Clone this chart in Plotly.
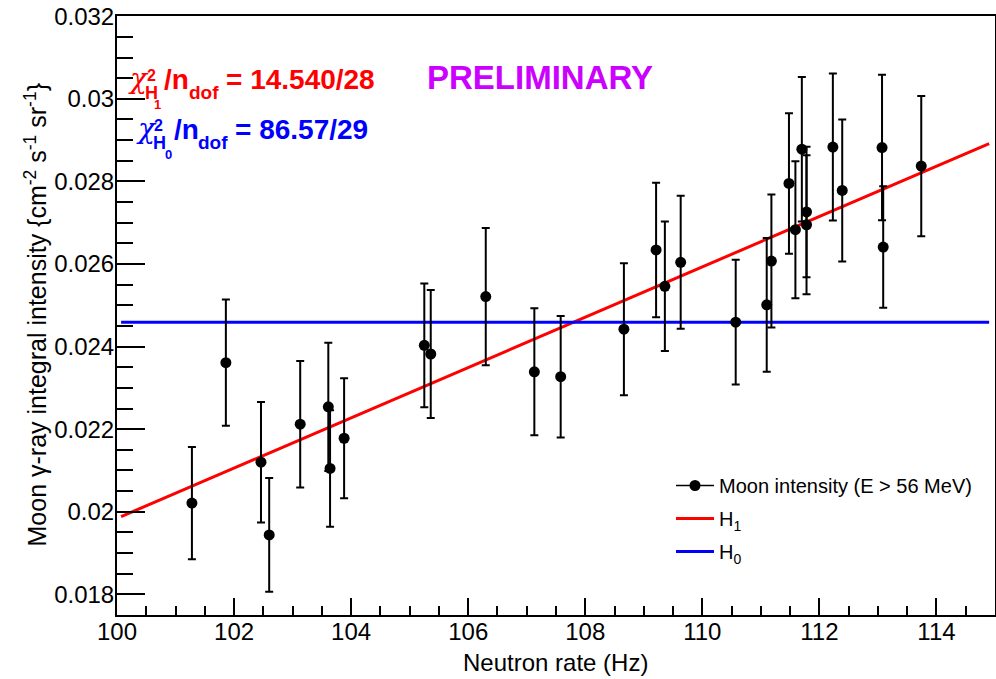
import numpy as np
import plotly.graph_objects as go

# ---------------- data ----------------
neutron_rate = [101.28, 101.86, 102.46, 102.60, 103.13, 103.61, 103.64, 103.88,
                105.25, 105.36, 106.30, 107.13, 107.58, 108.66, 109.21, 109.36,
                109.63, 110.57, 111.10, 111.18, 111.48, 111.59, 111.70, 111.78,
                111.78, 112.23, 112.39, 113.07, 113.09, 113.74]
intensity = [0.02021, 0.02361, 0.02120, 0.01944, 0.02212, 0.02254, 0.02105, 0.02178,
             0.02403, 0.02382, 0.02521, 0.02339, 0.02327, 0.02442, 0.02634, 0.02546,
             0.02604, 0.02459, 0.02501, 0.02607, 0.02795, 0.02683, 0.02878, 0.02726,
             0.02695, 0.02883, 0.02778, 0.02882, 0.02641, 0.02837]
intensity_err = [0.00136, 0.00153, 0.00146, 0.00138, 0.00153, 0.00155, 0.00141, 0.00145,
                 0.00150, 0.00155, 0.00166, 0.00154, 0.00147, 0.00160, 0.00163, 0.00157,
                 0.00161, 0.00151, 0.00162, 0.00161, 0.00170, 0.00166, 0.00175, 0.00158,
                 0.00168, 0.00178, 0.00172, 0.00176, 0.00147, 0.00170]

# fit models
fit_range = [100.07, 114.9]
h1_intercept_at_100 = 0.01984   # H1: linear model
h1_slope = 0.000609
h0_value = 0.02459              # H0: constant model

x_ticks = [100, 102, 104, 106, 108, 110, 112, 114]
x_tick_labels = ["100", "102", "104", "106", "108", "110", "112", "114"]
y_ticks = [0.018, 0.020, 0.022, 0.024, 0.026, 0.028, 0.030, 0.032]
y_tick_labels = ["0.018", "0.02", "0.022", "0.024", "0.026", "0.028", "0.03", "0.032"]

legend_names = ["Moon intensity (E > 56 MeV)", "H<sub>1</sub>", "H<sub>0</sub>"]
chi2_h1_text = "= 14.540/28"
chi2_h0_text = "= 86.57/29"
prelim_text = "PRELIMINARY"

# ---------------- layout geometry ----------------
W, H = 996, 679
ML, MR, MT, MB = 117, 1, 16, 64
PW, PH = W - ML - MR, H - MT - MB
FONT = "Liberation Sans, Arial, Helvetica, sans-serif"

def px_x(px):
    return (px - ML) / PW

def px_y(py):
    return (MT + PH - py) / PH

fx = np.linspace(fit_range[0], fit_range[1], 50)
fy_h1 = h1_intercept_at_100 + h1_slope * (fx - 100)
fy_h0 = np.full_like(fx, h0_value)

fig = go.Figure()

fig.add_trace(go.Scatter(
    x=fx, y=fy_h1, mode="lines", line=dict(color="#ff0000", width=3),
    showlegend=False, hoverinfo="skip"))
fig.add_trace(go.Scatter(
    x=fx, y=fy_h0, mode="lines", line=dict(color="#0000ff", width=3),
    showlegend=False, hoverinfo="skip"))
fig.add_trace(go.Scatter(
    x=neutron_rate, y=intensity, mode="markers",
    marker=dict(color="black", size=11, symbol="circle"),
    error_y=dict(type="data", array=intensity_err, visible=True,
                 color="black", thickness=2, width=4),
    showlegend=False))

# legend-only entries
fig.add_trace(go.Scatter(
    x=[None], y=[None], mode="lines+markers", name=legend_names[0],
    line=dict(color="black", width=1.5), marker=dict(color="black", size=11),
    legendgroup="a"))
fig.add_trace(go.Scatter(
    x=[None], y=[None], mode="lines", name=legend_names[1],
    line=dict(color="#ff0000", width=3), legendgroup="b"))
fig.add_trace(go.Scatter(
    x=[None], y=[None], mode="lines", name=legend_names[2],
    line=dict(color="#0000ff", width=3), legendgroup="c"))

annotations = []

def add_text(text, left_px, baseline_px, size, color, bold=True, family=FONT):
    t = "<b>" + text + "</b>" if bold else text
    annotations.append(dict(
        text=t, xref="paper", yref="paper",
        x=px_x(left_px), y=px_y(baseline_px + 0.212 * size),
        xanchor="left", yanchor="bottom", showarrow=False, borderpad=0,
        font=dict(family=family, size=size, color=color)))

RED, BLUE, MAG = "#ff0000", "#0000ff", "#cc00ff"
CHI_FONT = "DejaVu Serif, serif"
# chi2 H1 row
add_text("<i>χ</i>", 127, 90, 28, RED, bold=False, family=CHI_FONT)
add_text("2", 146, 82, 16, RED)
add_text("H", 144, 100, 18, RED)
add_text("1", 153, 110, 13, RED)
add_text("/n", 163, 90, 28, RED)
add_text("dof", 188, 100, 19, RED)
add_text(chi2_h1_text, 225, 90, 28, RED)
# chi2 H0 row
add_text("<i>χ</i>", 135, 140, 28, BLUE, bold=False, family=CHI_FONT)
add_text("2", 153, 131.5, 16, BLUE)
add_text("H", 152, 150, 18, BLUE)
add_text("0", 164, 160, 13, BLUE)
add_text("/n", 173, 140, 28, BLUE)
add_text("dof", 197, 150, 19, BLUE)
add_text(chi2_h0_text, 234, 140, 28, BLUE)
# preliminary
add_text(prelim_text, 426, 90.5, 33, MAG)

# axis titles
annotations.append(dict(
    text="Neutron rate (Hz)", xref="paper", yref="paper",
    x=px_x(555), y=px_y(663), xanchor="center", yanchor="middle",
    showarrow=False, font=dict(family=FONT, size=24, color="black")))
annotations.append(dict(
    text="Moon γ-ray integral intensity {cm<sup>-2</sup> s<sup>-1</sup> sr<sup>-1</sup>}",
    xref="paper", yref="paper", x=px_x(35.5), y=px_y(315), textangle=-90,
    xanchor="center", yanchor="middle", showarrow=False,
    font=dict(family=FONT, size=25, color="black")))

axis_common = dict(
    showline=True, linecolor="black", linewidth=2, mirror=True,
    showgrid=False, zeroline=False, ticks="inside", tickcolor="black",
    tickwidth=2, tickfont=dict(family=FONT, size=24, color="black"),
    tickmode="array", automargin=False)

fig.update_xaxes(
    range=[100, 115], tickvals=x_ticks, ticktext=x_tick_labels, ticklen=17,
    ticklabelstandoff=-6,
    minor=dict(dtick=0.5, tick0=100, ticklen=9, tickwidth=2, ticks="inside",
               tickcolor="black", showgrid=False),
    **axis_common)
fig.update_yaxes(
    range=[0.0175, 0.032005], tickvals=y_ticks, ticktext=y_tick_labels, ticklen=28,
    ticklabelstandoff=-4,
    minor=dict(dtick=0.0005, tick0=0.0175, ticklen=16, tickwidth=2, ticks="inside",
               tickcolor="black", showgrid=False),
    **axis_common)

fig.update_layout(
    width=W, height=H, autosize=False,
    margin=dict(l=ML, r=MR, t=MT, b=MB, pad=0, autoexpand=False),
    paper_bgcolor="white", plot_bgcolor="white",
    font=dict(family=FONT, color="black"),
    showlegend=True,
    legend=dict(x=px_x(671), y=px_y(466), xanchor="left", yanchor="top",
                bgcolor="rgba(0,0,0,0)", borderwidth=0,
                font=dict(family=FONT, size=20, color="black"),
                traceorder="grouped", tracegroupgap=4, itemwidth=38),
    annotations=annotations,
)

fig.write_html(
    "out.html",
    config={"displayModeBar": False},
    post_script="document.body.style.margin='0';document.body.style.overflow='hidden';",
)
